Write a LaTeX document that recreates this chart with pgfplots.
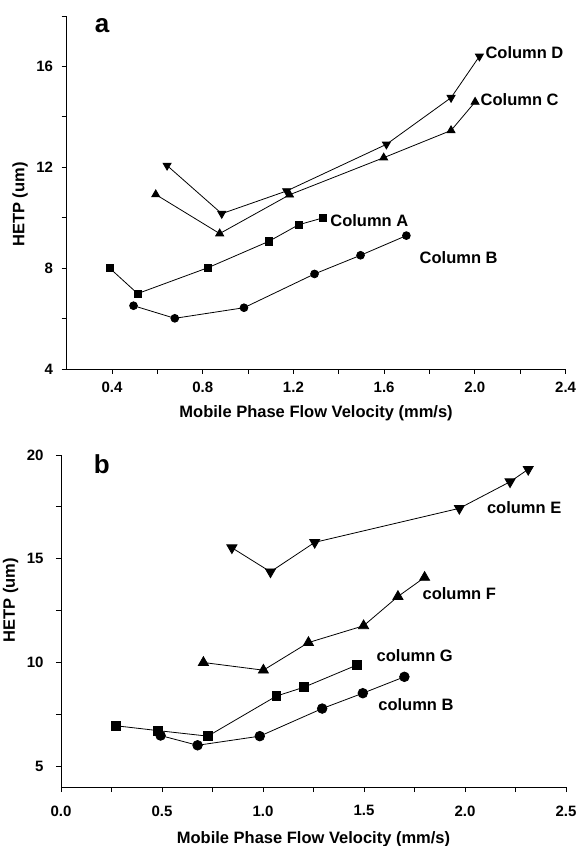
\documentclass[border=0pt]{standalone}
\usepackage{fontspec}
\setmainfont{Liberation Sans}
\usepackage{pgfplots}
\pgfplotsset{compat=1.18}

\pgfplotsset{
  hetp/.style={
    scale only axis,
    axis x line*=bottom, axis y line*=left,
    axis line style={line width=0.9pt, -},
    tick align=outside,
    major tick length=5pt, minor tick length=5pt,
    tick style={black, line width=0.8pt},
    /pgf/number format/assume math mode=true,
    ticklabel style={font=\bfseries\fontsize{15}{17}\selectfont},
    label style={font=\bfseries\fontsize{16.5}{19}\selectfont},
    xlabel={Mobile Phase Flow Velocity (mm/s)},
    ylabel={HETP (um)},
    every axis plot/.append style={black, line width=0.8pt},
    clip=false,
  },
  onedec/.style={xticklabel style={/pgf/number format/fixed,
    /pgf/number format/fixed zerofill, /pgf/number format/precision=1}},
}

\begin{document}
\begin{tikzpicture}
\useasboundingbox (0,0) rectangle (577pt,846pt);

% panel a
\begin{axis}[hetp, onedec,
  at={(66.6pt,477pt)}, anchor=south west,
  width=499pt, height=353pt,
  xmin=0.2, xmax=2.4, ymin=4, ymax=18,
  xtick={0.4,0.8,1.2,1.6,2.0,2.4},
  minor xtick={0.6,1.0,1.4,1.8,2.2},
  ytick={4,8,12,16}, minor ytick={6,10,14,18},
  xticklabel style={yshift=-4pt},
  yticklabel style={xshift=-5pt},
  xlabel style={at={(axis description cs:0.5,-0.1246)}, anchor=center},
  ylabel style={at={(axis description cs:-0.0934,0.466)}, anchor=center},
]
\addplot[mark=square*, mark size=3.6pt] coordinates {
  (0.39,8.00) (0.513,6.99) (0.824,8.02) (1.091,9.06) (1.223,9.72) (1.329,9.99)};
\addplot[mark=*, mark size=3.9pt] coordinates {
  (0.495,6.51) (0.677,6.01) (0.982,6.43) (1.293,7.77) (1.496,8.51) (1.698,9.29)};
\addplot[mark=triangle*, mark size=4.6pt] coordinates {
  (0.593,10.92) (0.875,9.37) (1.183,10.91) (1.598,12.38) (1.895,13.46) (2.001,14.59)};
\addplot[mark=triangle*, mark size=4.6pt, mark options={rotate=180}] coordinates {
  (0.643,12.07) (0.884,10.16) (1.170,11.06) (1.610,12.91) (1.895,14.76) (2.020,16.40)};
\begin{scope}[font=\bfseries\fontsize{16.5}{19}\selectfont]
\node[anchor=west, inner sep=0pt] at (axis cs:2.046,16.53) {Column D};
\node[anchor=west, inner sep=0pt] at (axis cs:2.025,14.68) {Column C};
\node[anchor=west, inner sep=0pt] at (axis cs:1.362,9.89) {Column A};
\node[anchor=west, inner sep=0pt] at (axis cs:1.756,8.41) {Column B};
\end{scope}
\node[font=\bfseries\fontsize{26}{29}\selectfont] at (axis description cs:0.071,0.972) {a};
\end{axis}

% panel b
\begin{axis}[hetp, onedec,
  at={(61pt,59pt)}, anchor=south west,
  width=505pt, height=332pt,
  xmin=0, xmax=2.5, ymin=4, ymax=20,
  xtick={0,0.5,...,2.5}, minor x tick num=1,
  ytick={5,10,15,20}, minor ytick={7.5,12.5,17.5},
  xticklabel style={yshift=-10pt},
  yticklabel style={xshift=-9pt},
  xlabel style={at={(axis description cs:0.5,-0.1566)}, anchor=center},
  ylabel style={at={(axis description cs:-0.1,0.563)}, anchor=center},
]
\addplot[mark=triangle*, mark size=5.8pt, mark options={rotate=180}] coordinates {
  (0.846,15.53) (1.037,14.37) (1.256,15.79) (1.972,17.43) (2.223,18.71) (2.313,19.31)};
\addplot[mark=triangle*, mark size=5.8pt] coordinates {
  (0.705,10.00) (1.002,9.63) (1.225,10.96) (1.498,11.77) (1.668,13.18) (1.800,14.10)};
\addplot[mark=square*, mark size=4.4pt] coordinates {
  (0.273,6.95) (0.478,6.72) (0.727,6.45) (1.066,8.38) (1.203,8.81) (1.463,9.87)};
\addplot[mark=*, mark size=4.8pt] coordinates {
  (0.493,6.48) (0.676,6.01) (0.984,6.45) (1.293,7.78) (1.494,8.52) (1.700,9.31)};
\begin{scope}[font=\bfseries\fontsize{16.5}{19}\selectfont]
\node[anchor=west, inner sep=0pt] at (axis cs:2.108,17.48) {column E};
\node[anchor=west, inner sep=0pt] at (axis cs:1.789,13.30) {column F};
\node[anchor=west, inner sep=0pt] at (axis cs:1.562,10.32) {column G};
\node[anchor=west, inner sep=0pt] at (axis cs:1.570,7.99) {column B};
\end{scope}
\node[font=\bfseries\fontsize{26}{29}\selectfont] at (axis description cs:0.081,0.972) {b};
\end{axis}
\end{tikzpicture}
\end{document}
